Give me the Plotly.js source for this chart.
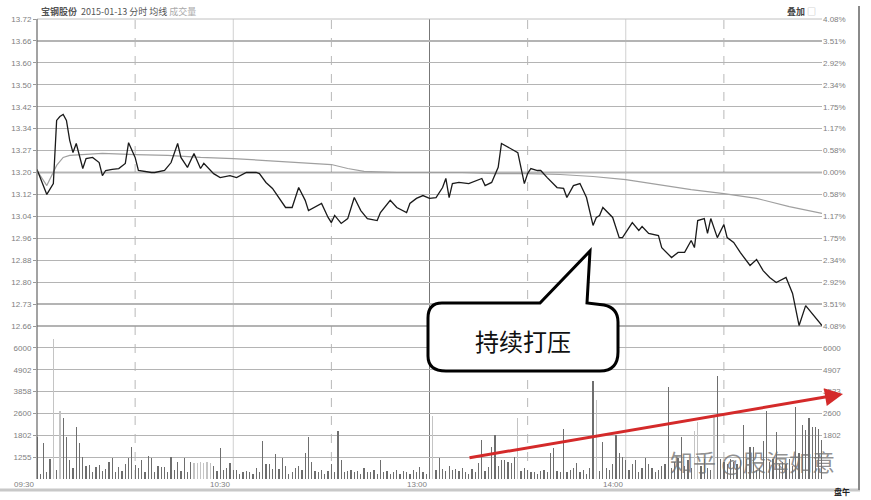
<!DOCTYPE html>
<html><head><meta charset="utf-8">
<script src="https://cdn.plot.ly/plotly-3.0.1.min.js"></script>
<style>html,body{margin:0;padding:0;background:#fff}#chart{width:871px;height:500px}</style>
</head><body><div id="chart"></div>
<script>
// ---- data ----
const priceMin = [0,2,3,5,6,7,8,9,10,11,12,14,15,17,19,20,21,23,25,27,28,30,31,35,36,39,41,43,44,46,48,50,51,54,56,59,61,64,67,68,70,72,74,76,78,80,82,83,87,89,90,91,93,95,97,99,101,104,105,108,110,113,114,116,118,120,122,124,125,126,127,129,132,136,137,139,141,142,147,148,149,150,151,153,154,156,159,161,162,164,166,168,170,171,172,173,175,176,178,179,182,184,185,187,190,191,194,196,198,200,201,202,204,205,206,208,210,211,213,215,218,220,222,224,226,229,231,233,235,240];
const price = [13.211,13.154,13.123,13.161,13.383,13.397,13.404,13.383,13.313,13.270,13.302,13.214,13.249,13.253,13.235,13.189,13.207,13.211,13.214,13.232,13.305,13.253,13.207,13.200,13.200,13.207,13.235,13.302,13.253,13.218,13.267,13.214,13.232,13.196,13.182,13.189,13.182,13.200,13.200,13.196,13.165,13.144,13.112,13.077,13.077,13.147,13.102,13.066,13.091,13.042,13.024,13.049,13.021,13.038,13.112,13.066,13.038,13.031,13.059,13.102,13.077,13.059,13.091,13.109,13.119,13.109,13.112,13.147,13.179,13.112,13.161,13.165,13.161,13.179,13.154,13.165,13.218,13.302,13.270,13.214,13.161,13.196,13.214,13.207,13.207,13.182,13.147,13.144,13.112,13.154,13.161,13.112,13.014,13.042,13.049,13.077,13.056,13.042,12.971,12.971,13.024,12.996,13.010,12.986,12.978,12.936,12.901,12.919,12.919,12.961,12.936,13.031,13.038,12.986,13.038,12.971,13.017,12.971,12.954,12.919,12.873,12.894,12.855,12.831,12.813,12.831,12.775,12.662,12.732,12.662];
const avgMin = [0,3,6,8,10,20,30,40,50,60,70,80,90,95,100,110,120,130,140,150,160,170,180,190,200,210,220,230,240];
const avgPrice = [13.207,13.154,13.225,13.253,13.260,13.267,13.263,13.260,13.253,13.249,13.242,13.235,13.228,13.214,13.204,13.200,13.200,13.200,13.196,13.196,13.193,13.186,13.175,13.158,13.140,13.126,13.109,13.080,13.056];
const volume = [1900,250,1650,300,900,6400,400,3100,2800,1900,850,500,2400,1650,1000,600,650,300,550,650,
350,450,800,950,300,550,350,700,950,1450,650,500,850,300,1050,950,300,600,550,550,
300,1000,400,800,350,950,300,800,750,750,800,750,800,750,600,350,1400,400,500,750,
400,400,250,300,350,300,250,500,300,1750,700,700,450,1150,450,950,600,250,300,500,
600,400,1200,1900,800,350,300,400,250,350,700,300,2200,850,300,350,400,300,350,250,
500,300,300,400,250,850,300,350,250,300,400,250,350,300,250,400,300,550,300,250,
300,2900,400,950,450,350,600,400,450,350,500,300,250,450,300,750,1800,350,550,1450,
2000,600,850,850,800,750,1000,2800,350,500,400,300,300,250,350,400,300,1200,1400,350,
300,2300,300,400,500,750,300,400,250,500,4500,3600,350,1700,500,400,700,2000,1200,1000,
850,400,700,850,300,500,950,700,500,300,400,600,700,4200,500,800,950,1900,600,850,
500,2200,2600,600,900,500,400,2900,4700,900,800,700,900,800,700,850,2450,900,1450,1450,
400,500,1750,3100,800,900,2150,700,800,700,900,600,3300,1200,2450,2250,2800,2400,2400,2300,1800];
const lightBars = [5,7,48,49,50,51,52,53,121,147,171,201,202,207];
const prevClose = 13.20;
const priceTickText = ["13.72","13.66","13.60","13.50","13.42","13.34","13.27","13.20","13.12","13.04","12.96","12.88","12.80","12.73","12.66"];
const pctTickText = ["4.08%","3.51%","2.92%","2.34%","1.75%","1.17%","0.58%","0.00%","0.58%","1.17%","1.75%","2.34%","2.92%","3.51%","4.08%"];
const volTickVals = [1000,2000,3000,4000,5000,6000];
const volTickText = ["1255","1802","2600","3858","4902","6000"];
const volTickTextRight = ["","1802","2600","3533","4907","6000"];
const timeLabels = ["09:30","10:30","13:00","14:00"];
const timeLabelMin = [0,60,120,180];
const gridMin = [30,60,90,120,150,180,210];
const gridDash = ["dash","solid","dash","solid","dash","solid","dash"];
const gridColor = ["#b8b8b8","#d0d0d0","#b8b8b8","#777","#b8b8b8","#d0d0d0","#b8b8b8"];

// ---- layout helpers ----
const L=37, R=822, T=19, B=479;
const px = x => (x-L)/(R-L);
const py = y => (B-y)/(B-T);
const step = 0.0771;
const pRange = [prevClose-7*step, prevClose+7*step];
const priceTickVals = priceTickText.map((_,i)=> pRange[1] - i*step);
const minute = volume.map((_,i)=>i);
const barColors = volume.map((_,i)=> lightBars.includes(i) ? "#c4c4c4" : "#6e6e6e");

const font = {family:"Liberation Sans, DejaVu Sans, sans-serif", size:8, color:"#808080"};
const dom = (B-326)/(B-T);

const traces = [
  {x:minute, y:volume, type:"bar", xaxis:"x", yaxis:"y2", marker:{color:barColors, line:{width:0}}, width:0.38, hoverinfo:"skip"},
  {x:avgMin, y:avgPrice, type:"scatter", mode:"lines", xaxis:"x", yaxis:"y", line:{color:"#a0a0a0", width:1.2}, hoverinfo:"skip"},
  {x:priceMin, y:price, type:"scatter", mode:"lines", xaxis:"x", yaxis:"y", line:{color:"#1a1a1a", width:1.3}, hoverinfo:"skip"}
];

const shapes = [];
gridMin.forEach((m,i)=>shapes.push({type:"line", xref:"x", yref:"paper", x0:m, x1:m, y0:0, y1:1, line:{color:gridColor[i], width:1, dash:gridDash[i]}, layer:"below"}));
shapes.push({type:"line", xref:"paper", yref:"paper", x0:0, x1:0, y0:0, y1:1, line:{color:"#666", width:1.2}});
shapes.push({type:"line", xref:"paper", yref:"y", x0:0, x1:1, y0:prevClose, y1:prevClose, line:{color:"#707070", width:1.6}, layer:"below"});
shapes.push({type:"line", xref:"paper", yref:"paper", x0:0, x1:1, y0:dom, y1:dom, line:{color:"#9a9a9a", width:1.4}, layer:"below"});
shapes.push({type:"line", xref:"paper", yref:"paper", x0:0, x1:1, y0:1, y1:1, line:{color:"#c0c0c0", width:1}, layer:"below"});
shapes.push({type:"line", xref:"paper", yref:"paper", x0:px(0), x1:px(860), y0:py(490), y1:py(490), line:{color:"#c8c8c8", width:3}});
shapes.push({type:"line", xref:"paper", yref:"paper", x0:px(859), x1:px(859), y0:py(6), y1:py(490), line:{color:"#8a8a8a", width:2}});
const pts = (s)=>s.replace(/(-?[\d.]+),(-?[\d.]+)/g,(m,a,b)=>px(+a).toFixed(5)+","+py(+b).toFixed(5));
shapes.push({type:"path", xref:"paper", yref:"paper", fillcolor:"#ffffff", line:{color:"#000", width:3},
  path: pts("M 428,318 Q 428,303 442,303 L 540,303 L 590,251 L 587,303 L 604,305 Q 618,308 618,322 L 618,352 Q 618,371 600,371 L 446,371 Q 428,371 428,356 Z")});

const annotations = [
  {xref:"paper", yref:"paper", x:px(39), y:py(12), xanchor:"left", yanchor:"middle", showarrow:false,
   text:"<b>宝钢股份</b>  2015-01-13 分时 均线 <span style='color:#aaa'>成交量</span>", font:{family:"Noto Sans CJK SC, sans-serif", size:9, color:"#555"}},
  {xref:"paper", yref:"paper", x:px(818), y:py(12), xanchor:"right", yanchor:"middle", showarrow:false,
   text:"<b>叠加</b> <span style='color:#aaa'>□</span>", font:{family:"Noto Sans CJK SC, sans-serif", size:9, color:"#444"}},
  {xref:"paper", yref:"paper", x:px(523), y:py(340), xanchor:"center", yanchor:"middle", showarrow:false,
   text:"持续打压", font:{family:"Noto Sans CJK SC, sans-serif", size:24, color:"#111"}},
  {xref:"paper", yref:"paper", x:px(843), y:py(394), ax:468-843, ay:458-394, axref:"pixel", ayref:"pixel",
   showarrow:true, arrowhead:2, arrowsize:1.2, arrowwidth:3, arrowcolor:"#d42a2a", text:""},
  {xref:"paper", yref:"paper", x:px(752), y:py(461), xanchor:"center", yanchor:"middle", showarrow:false,
   text:"知乎 @股海如意", font:{family:"Noto Sans CJK SC, sans-serif", size:23, color:"rgba(110,110,110,0.75)"}},
  {xref:"paper", yref:"paper", x:px(842), y:py(484), xanchor:"center", yanchor:"top", showarrow:false,
   text:"<b>盘午</b>", font:{family:"Noto Sans CJK SC, sans-serif", size:8, color:"#222"}}
];
timeLabels.forEach((t,i)=>annotations.push({xref:"x", yref:"paper", x:timeLabelMin[i], y:py(485), xanchor:"right", yanchor:"middle", showarrow:false, text:t, font:font}));

const layout = {
  width:871, height:500, margin:{l:L, r:871-R, t:T, b:500-B},
  paper_bgcolor:"#fff", plot_bgcolor:"#fff", showlegend:false, bargap:0,
  xaxis:{range:[0,240], domain:[0,1], anchor:"y2", showgrid:false, zeroline:false, showticklabels:false, ticks:"", showline:false, fixedrange:true},
  yaxis:{domain:[dom,1], range:pRange, tickvals:priceTickVals, ticktext:priceTickText, showgrid:true, gridcolor:"#b4b4b4", gridwidth:1.2, zeroline:false, ticks:"outside", ticklen:3, tickcolor:"#999", tickfont:font, showline:false},
  yaxis3:{overlaying:"y", side:"right", anchor:"x", range:pRange, tickvals:priceTickVals, ticktext:pctTickText, showgrid:false, zeroline:false, ticks:"", tickfont:font},
  yaxis2:{domain:[0,dom], range:[0,7000], tickvals:volTickVals, ticktext:volTickText, showgrid:true, gridcolor:"#b4b4b4", gridwidth:1.2, zeroline:false, ticks:"outside", ticklen:3, tickcolor:"#999", tickfont:font},
  yaxis4:{overlaying:"y2", side:"right", anchor:"x", range:[0,7000], tickvals:volTickVals, ticktext:volTickTextRight, showgrid:false, zeroline:false, ticks:"", tickfont:font},
  shapes:shapes, annotations:annotations
};
traces.push({x:[0], y:[prevClose], yaxis:"y3", xaxis:"x", type:"scatter", mode:"markers", marker:{opacity:0}, hoverinfo:"skip"});
traces.push({x:[0], y:[0], yaxis:"y4", xaxis:"x", type:"scatter", mode:"markers", marker:{opacity:0}, hoverinfo:"skip"});
Plotly.newPlot("chart", traces, layout, {displayModeBar:false, staticPlot:true});
</script></body></html>
